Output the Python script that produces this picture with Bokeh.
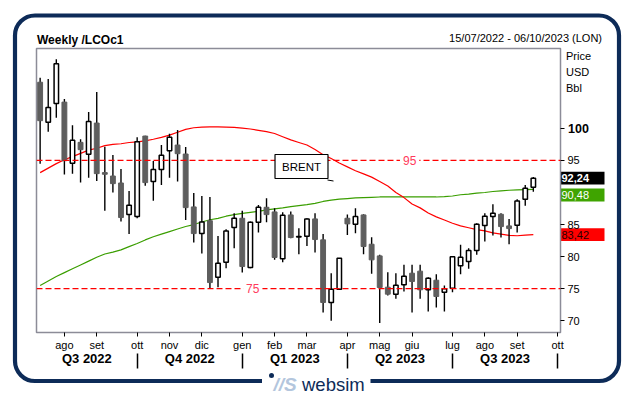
import numpy as np
import pandas as pd
from bokeh.plotting import figure
from bokeh.layouts import column
from bokeh.models import (ColumnDataSource, FixedTicker, LinearAxis, Range1d,
                          Span, Label, BoxAnnotation)
from bokeh.embed import file_html
from bokeh.resources import INLINE

# ---------------- data ----------------
first_week = "2022-07-15"
axis_weeks = 65
month_names = ["gen", "feb", "mar", "apr", "mag", "giu", "lug", "ago", "set", "ott", "nov", "dic"]

opens = [107.2, 100.94, 103.9, 104.1, 94.55, 97.82, 95.95, 100.83, 93.1, 92.57,
         91.48, 86.55, 86.24, 98.8, 91.7, 93.6, 96.52, 97.4, 96.0, 87.75,
         83.59, 85.6, 76.79, 79.13, 84.53, 85.98, 78.3, 85.36, 87.69, 86.97,
         79.65, 86.5, 83.05, 83.18, 85.88, 82.61, 72.84, 74.92, 85.98, 85.05,
         86.5, 81.93, 80.11, 75.23, 74.14, 75.6, 77.41, 77.73, 74.82, 76.32,
         74.45, 75.08, 78.56, 79.23, 80.95, 84.84, 86.24, 86.6, 84.79, 84.89,
         88.94, 90.81]
highs = [107.9, 107.7, 110.8, 104.6, 100.5, 98.3, 102.54, 105.66, 97.15, 95.85,
         93.67, 90.24, 98.6, 98.85, 94.91, 97.4, 99.17, 99.74, 97.09, 89.93,
         89.46, 89.3, 83.23, 84.27, 86.76, 87.17, 85.46, 88.06, 89.1, 87.54,
         86.92, 87.02, 84.42, 85.98, 86.76, 83.54, 77.41, 79.8, 86.55, 87.54,
         86.6, 83.02, 80.27, 77.57, 77.41, 78.71, 78.71, 78.71, 76.79, 77.26,
         75.49, 79.96, 81.83, 81.31, 85.2, 86.76, 88.16, 86.76, 85.88, 88.94,
         91.17, 92.42]
lows = [94.5, 99.48, 101.66, 92.8, 92.94, 91.54, 92.3, 91.8, 87.17, 89.98,
        85.46, 83.54, 86.0, 91.07, 88.73, 91.17, 92.3, 91.7, 85.72, 82.19,
        80.48, 75.0, 75.23, 78.19, 81.31, 77.52, 78.2, 83.75, 85.36, 79.49,
        79.13, 82.87, 80.37, 81.67, 80.63, 71.29, 69.99, 74.82, 83.38, 83.64,
        80.37, 77.31, 69.63, 73.94, 73.42, 74.56, 71.29, 73.42, 71.44, 72.07,
        71.44, 74.45, 77.26, 78.09, 80.27, 82.35, 83.28, 82.97, 81.93, 83.75,
        87.95, 90.13]
closes = [101.2, 103.27, 110.1, 94.96, 98.13, 96.68, 101.09, 92.94, 92.84, 91.38,
          86.09, 88.0, 97.92, 91.54, 93.6, 95.8, 98.6, 96.05, 87.64, 83.59,
          85.41, 75.95, 78.97, 84.01, 85.98, 78.45, 85.36, 87.69, 86.55, 79.86,
          86.45, 82.97, 83.15, 85.88, 82.66, 72.84, 74.92, 79.75, 85.1, 86.24,
          81.57, 79.49, 75.18, 74.14, 75.54, 76.95, 76.12, 74.82, 76.64, 73.78,
          74.97, 79.96, 79.91, 80.95, 85.05, 86.29, 86.76, 84.68, 84.37, 88.68,
          90.65, 92.24]
ma_red = [93.1, 93.8, 94.5, 95.1, 95.6, 96.1, 96.6, 96.9, 97.3, 97.5,
          97.6, 97.8, 97.9, 98.05, 98.3, 98.6, 98.95, 99.4, 99.85, 100.1,
          100.2, 100.25, 100.25, 100.2, 100.15, 100.05, 99.9, 99.7, 99.5, 99.2,
          98.7, 98.2, 97.8, 97.4, 96.7, 95.9, 95.3, 94.6, 94.0, 93.4,
          92.9, 92.4, 91.7, 91.0, 90.0, 89.2, 88.2, 87.6, 86.8, 86.2,
          85.7, 85.2, 84.8, 84.5, 84.2, 84.0, 83.7, 83.5, 83.3, 83.25,
          83.35, 83.42]
ma_green = [75.5, 76.2, 76.9, 77.5, 78.1, 78.7, 79.3, 79.9, 80.4, 80.7,
            81.05, 81.55, 82.05, 82.6, 83.1, 83.5, 83.9, 84.3, 84.7, 85.0,
            85.4, 85.75, 85.95, 86.3, 86.55, 86.75, 86.9, 87.05, 87.3, 87.45,
            87.6, 87.8, 87.95, 88.1, 88.3, 88.6, 88.8, 88.95, 89.05, 89.15,
            89.2, 89.25, 89.3, 89.3, 89.3, 89.3, 89.3, 89.3, 89.3, 89.3,
            89.35, 89.45, 89.65, 89.75, 89.9, 90.0, 90.15, 90.25, 90.35, 90.4,
            90.45, 90.48]
levels = [95, 75]
level_label_pos = [45.7, 26.3]
price_ticks = [70, 75, 80, 85, 95, 100]
bold_tick = 100
title_text = "Weekly /LCOc1"
period_text = "15/07/2022 - 06/10/2023 (LON)"
unit_texts = ["Price", "USD", "Bbl"]

# ---------------- geometry (layout only) ----------------
W, H = 633, 396
X0, X1 = -0.45, 64.36
Y0, Y1 = 68.16, 112.46
FL, FT, FW, FH = 36, 48, 524, 284   # chart frame position on the canvas


def px2x(px):
    return X0 + (px - FL) * (X1 - X0) / FW


def px2y(py):
    return Y1 - (py - FT) * (Y1 - Y0) / FH


def y2px(v):
    return FT + (Y1 - v) * FH / (Y1 - Y0)


n = len(closes)
idx = np.arange(n)
dates = pd.date_range(first_week, periods=axis_weeks, freq="7D")
month_ticks = [i for i in range(1, axis_weeks) if dates[i].month != dates[i - 1].month]
month_labels = {i: month_names[dates[i].month - 1] for i in month_ticks}
quarter_starts = [i for i in month_ticks if dates[i].month in (1, 4, 7, 10)]
bounds = [X0] + quarter_starts
q_mids, q_labels = [], {}
for k in range(len(bounds) - 1):
    m = round((bounds[k] + bounds[k + 1]) / 2, 2)
    d = dates[max(0, int(np.ceil(bounds[k])))]
    q_mids.append(m)
    q_labels[m] = f"Q{(d.month - 1) // 3 + 1} {d.year}"

o = np.array(opens); c = np.array(closes)
src = ColumnDataSource(dict(x=idx, high=highs, low=lows))
up = c >= o
bull_src = ColumnDataSource(dict(x=idx[up], top=np.maximum(o, c)[up], bottom=np.minimum(o, c)[up]))
bear_src = ColumnDataSource(dict(x=idx[~up], top=np.maximum(o, c)[~up], bottom=np.minimum(o, c)[~up]))

FONT = "Liberation Sans"
NAVY = "#0d2b58"

# =============== background figure (frame, titles, value boxes, logo) ===============
bg = figure(width=W, height=H, x_range=Range1d(0, W), y_range=Range1d(H, 0),
            x_axis_type=None, y_axis_type=None, min_border=0,
            output_backend="svg", toolbar_location=None)
bg.frame_align = False
bg.outline_line_color = None
bg.background_fill_color = "white"
bg.border_fill_color = "white"
bg.xgrid.visible = False
bg.ygrid.visible = False

bg.add_layout(BoxAnnotation(left=14.5, right=618.5, top=15, bottom=380.5,
                            fill_alpha=0, line_color=NAVY, line_alpha=1, line_width=4.2,
                            border_radius=20))

bg.add_layout(Label(x=36.5, y=39.5, text=title_text, text_align="left", text_baseline="middle",
                    text_font=FONT, text_font_size="12px", text_font_style="bold",
                    text_color="black"))
bg.add_layout(Label(x=601.5, y=37.5, text=period_text, text_align="right", text_baseline="middle",
                    text_font=FONT, text_font_size="11px", text_color="black"))
for t, py in zip(unit_texts, [55, 71, 87]):
    bg.add_layout(Label(x=565.5, y=py, text=t, text_align="left", text_baseline="middle",
                        text_font=FONT, text_font_size="11px", text_color="black"))
bg.add_layout(Label(x=567.5, y=y2px(bold_tick), text=str(bold_tick), text_align="left",
                    text_baseline="middle", text_font=FONT, text_font_size="12.5px",
                    text_font_style="bold", text_color="black"))

# last-value boxes
val_boxes = [(closes[-1], y2px(closes[-1]), "black", "white", "bold"),
             (ma_green[-1], y2px(ma_green[-1]) + 5.6, "#3fa400", "white", "normal"),
             (ma_red[-1], y2px(ma_red[-1]), "#ff0000", "#2a0000", "normal")]
for v, py, bgc, fg, st in val_boxes:
    bg.add_layout(BoxAnnotation(left=559.5, right=604, top=py - 6.4, bottom=py + 6.4,
                                fill_color=bgc, fill_alpha=1, line_color=None))
    bg.add_layout(Label(x=561, y=py, text=f"{v:.2f}".replace(".", ","), text_align="left",
                        text_baseline="middle", text_font=FONT, text_font_size="11px",
                        text_font_style=st, text_color=fg))

# logo
bg.add_layout(BoxAnnotation(left=261.5, right=370, top=376, bottom=385,
                            fill_color="white", fill_alpha=1, line_color=None))
bg.add_layout(BoxAnnotation(left=268.5, right=273.5, top=372.5, bottom=377.5,
                            fill_color=NAVY, fill_alpha=1, line_color=None, border_radius=3))
bg.add_layout(Label(x=273, y=383.5, text="//S", text_align="left", text_baseline="middle",
                    text_font=FONT, text_font_size="19px", text_font_style="bold italic",
                    text_color="#b3c6dd"))
bg.add_layout(Label(x=301.5, y=383.5, text="websim", text_align="left",
                    text_baseline="middle", text_font=FONT, text_font_size="18.5px",
                    text_color=NAVY))

# =============== chart figure (on top, transparent) ===============
p = figure(frame_width=FW, frame_height=FH, x_range=Range1d(X0, X1), y_range=Range1d(Y0, Y1),
           output_backend="svg", toolbar_location=None, y_axis_location="right",
           min_border_left=FL, min_border_right=W - FL - FW,
           min_border_top=FT, min_border_bottom=H - FT - FH)
p.frame_align = False
p.styles = {"position": "absolute", "left": "0px", "top": "0px"}
p.background_fill_color = None
p.border_fill_color = None
p.outline_line_color = "#8c8c98"
p.outline_line_width = 1.5
p.xgrid.visible = False
p.ygrid.visible = False

# month axis
xa = p.xaxis[0]
xa.ticker = FixedTicker(ticks=month_ticks, minor_ticks=[])
xa.major_label_overrides = month_labels
xa.axis_line_color = None
xa.major_tick_out = 4
xa.major_tick_in = 0
xa.major_tick_line_color = "black"
xa.minor_tick_line_color = None
xa.major_label_standoff = 2
xa.major_label_text_font = FONT
xa.major_label_text_font_size = "11px"
xa.major_label_text_color = "black"

# quarter axis
qa = LinearAxis(ticker=FixedTicker(ticks=q_mids, minor_ticks=quarter_starts),
                major_label_overrides=q_labels)
qa.axis_line_color = None
qa.major_tick_line_color = None
qa.major_tick_out = 0
qa.major_tick_in = 0
qa.minor_tick_line_color = "black"
qa.minor_tick_line_width = 1.5
qa.minor_tick_out = 15
qa.minor_tick_in = 0
qa.major_label_standoff = -18
qa.major_label_text_font = FONT
qa.major_label_text_font_style = "bold"
qa.major_label_text_font_size = "13px"
qa.major_label_text_color = "black"
p.add_layout(qa, "below")

# price axis
ya = p.yaxis[0]
ya.ticker = FixedTicker(ticks=price_ticks, minor_ticks=[])
ya.major_label_overrides = {bold_tick: " "}
ya.axis_line_color = None
ya.major_tick_out = 4
ya.major_tick_in = 0
ya.major_tick_line_color = "black"
ya.minor_tick_line_color = None
ya.major_label_standoff = 3
ya.major_label_text_font = FONT
ya.major_label_text_font_size = "11px"
ya.major_label_text_color = "black"

# level lines
for lv in levels:
    p.add_layout(Span(location=lv, dimension="width", line_color="#ff0000",
                      line_dash="6 3", line_width=1.2))

# moving averages
p.line(idx, ma_green, line_color="#3a9e00", line_width=1.2)
p.line(idx, ma_red, line_color="#ff0000", line_width=1.2)

# candles
p.segment(x0="x", y0="low", x1="x", y1="high", source=src, line_color="black", line_width=1.4)
p.vbar(x="x", width=0.6, top="top", bottom="bottom", source=bear_src,
       fill_color="#5e5e5e", line_color="#5e5e5e", line_width=1)
p.vbar(x="x", width=0.55, top="top", bottom="bottom", source=bull_src,
       fill_color="white", line_color="black", line_width=1.5)

for lv, lx in zip(levels, level_label_pos):
    p.add_layout(Label(x=lx, y=lv, text=str(lv), text_align="center", text_baseline="middle",
                       text_color="#ff3b5c", text_font=FONT, text_font_size="12px",
                       background_fill_color="white", padding=3))

# BRENT box
brent_x, brent_y = px2x(301), px2y(166)
p.add_layout(Label(x=brent_x, y=brent_y, text="BRENT", text_align="center",
                   text_baseline="middle", text_font=FONT, text_font_size="11.5px",
                   text_color="black", background_fill_color="white",
                   border_line_color="black", border_line_width=1.2,
                   padding=dict(left=7, right=7, top=6, bottom=6)))
p.segment(x0=[px2x(327)], y0=[px2y(179.5)], x1=[px2x(333)], y1=[px2y(180.5)],
          line_color="black", line_width=1)

layout = column(bg, p, styles={"position": "relative"})
open("out.html", "w").write(file_html(layout, INLINE))
